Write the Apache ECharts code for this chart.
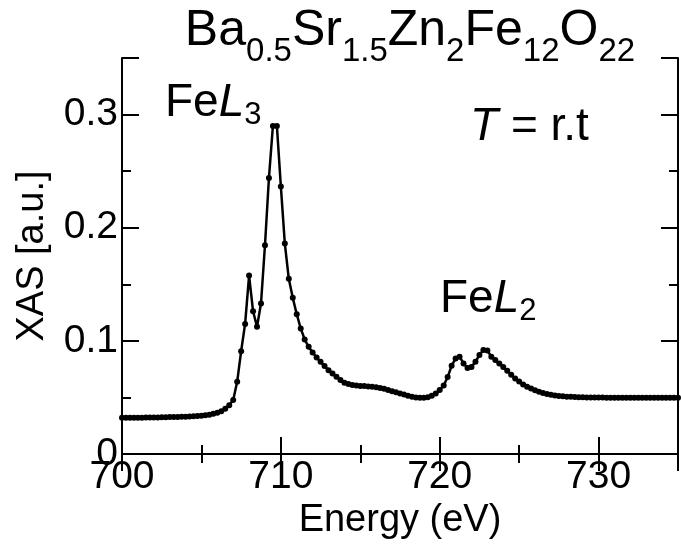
<!DOCTYPE html>
<html><head><meta charset="utf-8">
<script src="https://cdn.jsdelivr.net/npm/echarts@6/dist/echarts.min.js"></script>
<style>html,body{margin:0;padding:0;background:#fff}#c{width:681px;height:546px}</style>
</head><body><div id="c"></div>
<script>
// Energy grid (eV)
const energy = [
700.00,700.25,700.50,700.75,701.00,701.25,701.50,701.75,702.00,702.25,702.50,702.75,
703.00,703.25,703.50,703.75,704.00,704.25,704.50,704.75,705.00,705.25,705.50,705.75,
706.00,706.25,706.50,706.75,707.00,707.25,707.50,707.75,708.00,708.25,708.50,708.75,
709.00,709.25,709.50,709.75,710.00,710.25,710.50,710.75,711.00,711.25,711.50,711.75,
712.00,712.25,712.50,712.75,713.00,713.25,713.50,713.75,714.00,714.25,714.50,714.75,
715.00,715.25,715.50,715.75,716.00,716.25,716.50,716.75,717.00,717.25,717.50,717.75,
718.00,718.25,718.50,718.75,719.00,719.25,719.50,719.75,720.00,720.25,720.50,720.75,
721.00,721.25,721.50,721.75,722.00,722.25,722.50,722.75,723.00,723.25,723.50,723.75,
724.00,724.25,724.50,724.75,725.00,725.25,725.50,725.75,726.00,726.25,726.50,726.75,
727.00,727.25,727.50,727.75,728.00,728.25,728.50,728.75,729.00,729.25,729.50,729.75,
730.00,730.25,730.50,730.75,731.00,731.25,731.50,731.75,732.00,732.25,732.50,732.75,
733.00,733.25,733.50,733.75,734.00,734.25,734.50,734.75,735.00];
// XAS intensity (a.u.)
const xas = [
0.0320,0.0320,0.0320,0.0321,0.0321,0.0321,0.0322,0.0322,0.0323,0.0323,0.0324,0.0325,
0.0326,0.0327,0.0328,0.0329,0.0330,0.0332,0.0334,0.0336,0.0339,0.0343,0.0348,0.0355,
0.0365,0.0378,0.0400,0.0430,0.0477,0.0638,0.0909,0.1150,0.1577,0.1262,0.1124,0.1330,
0.1845,0.2440,0.2900,0.2900,0.2365,0.1860,0.1548,0.1380,0.1235,0.1110,0.1012,0.0947,
0.0897,0.0853,0.0815,0.0777,0.0741,0.0712,0.0683,0.0653,0.0630,0.0618,0.0610,0.0605,
0.0602,0.0600,0.0597,0.0594,0.0590,0.0584,0.0576,0.0566,0.0555,0.0545,0.0535,0.0525,
0.0515,0.0506,0.0500,0.0497,0.0497,0.0502,0.0515,0.0535,0.0565,0.0605,0.0680,0.0780,
0.0845,0.0860,0.0800,0.0760,0.0770,0.0815,0.0875,0.0920,0.0915,0.0860,0.0830,0.0800,
0.0768,0.0735,0.0700,0.0668,0.0640,0.0615,0.0595,0.0578,0.0563,0.0550,0.0540,0.0531,
0.0524,0.0518,0.0513,0.0510,0.0507,0.0505,0.0503,0.0502,0.0501,0.0500,0.0500,0.0499,
0.0499,0.0499,0.0498,0.0498,0.0498,0.0498,0.0497,0.0497,0.0497,0.0497,0.0497,0.0497,
0.0497,0.0497,0.0497,0.0497,0.0497,0.0497,0.0497,0.0497,0.0497];
const xTicks = [700, 710, 720, 730];
const yTicks = [0, 0.1, 0.2, 0.3];

const FONT = 'Liberation Sans';
const chart = echarts.init(document.getElementById('c'), null, {renderer: 'canvas'});
const axisBase = {
  axisLine: {show: true, lineStyle: {color: '#000', width: 2}},
  axisTick: {show: true, inside: true, length: 17, lineStyle: {color: '#000', width: 2}},
  minorTick: {show: true, splitNumber: 2, length: 9, lineStyle: {color: '#000', width: 2}},
  splitLine: {show: false},
  minorSplitLine: {show: false}
};
chart.setOption({
  animation: false,
  backgroundColor: '#fff',
  grid: {left: 122, right: -8, top: 58, bottom: 92, containLabel: false},
  xAxis: [
    Object.assign({}, axisBase, {
      type: 'value', position: 'bottom', min: 700, max: 735, interval: 10,
      axisLabel: {show: true, color: '#000', fontFamily: FONT, fontSize: 39, margin: 4,
        formatter: v => xTicks.includes(v) ? String(v) : ''},
      name: 'Energy (eV)', nameLocation: 'middle', nameGap: 44,
      nameTextStyle: {color: '#000', fontFamily: FONT, fontSize: 38, verticalAlign: 'top'}
    }),
    Object.assign({}, axisBase, {
      type: 'value', position: 'top', min: 700, max: 735, interval: 10,
      axisLabel: {show: false}
    })
  ],
  yAxis: [
    Object.assign({}, axisBase, {
      type: 'value', position: 'left', min: 0, max: 0.35, interval: 0.1,
      axisLabel: {show: true, color: '#000', fontFamily: FONT, fontSize: 39, margin: 4,
        formatter: v => { const t = yTicks.find(y => Math.abs(y - v) < 1e-9); return t === undefined ? '' : (t === 0 ? '0' : t.toFixed(1)); }},
      name: 'XAS [a.u.]', nameLocation: 'middle', nameGap: 70, nameRotate: 90,
      nameTextStyle: {color: '#000', fontFamily: FONT, fontSize: 38}
    }),
    Object.assign({}, axisBase, {
      type: 'value', position: 'right', min: 0, max: 0.35, interval: 0.1,
      axisLabel: {show: false}
    })
  ],
  series: [{
    type: 'line',
    data: energy.map((e, i) => [e, xas[i]]),
    xAxisIndex: 0, yAxisIndex: 0,
    showSymbol: true, showAllSymbol: true,
    symbol: 'circle', symbolSize: 6,
    itemStyle: {color: '#000'},
    lineStyle: {color: '#000', width: 2.5},
    emphasis: {disabled: true}
  }],
  graphic: [
    {type: 'text', x: 410, y: 4, z: 10,
      style: {text: '{m|Ba}{s|0.5}{m|Sr}{s|1.5}{m|Zn}{s|2}{m|Fe}{s|12}{m|O}{s|22}', align: 'center',
        rich: {m: {fontFamily: FONT, fontSize: 50, fill: '#000', verticalAlign: 'bottom', lineHeight: 52},
               s: {fontFamily: FONT, fontSize: 33, fill: '#000', padding: [0,0,-12,0], lineHeight: 52, verticalAlign: 'bottom'}}}},
    {type: 'text', x: 165, y: 80, z: 10,
      style: {text: '{m|Fe}{i|L}{s|3}',
        rich: {m: {fontFamily: FONT, fontSize: 46, fill: '#000'},
               i: {fontFamily: FONT, fontSize: 46, fontStyle: 'italic', fill: '#000'},
               s: {fontFamily: FONT, fontSize: 31, fill: '#000', padding: [0,0,-24,0]}}}},
    {type: 'text', x: 440, y: 276, z: 10,
      style: {text: '{m|Fe}{i|L}{s|2}',
        rich: {m: {fontFamily: FONT, fontSize: 46, fill: '#000'},
               i: {fontFamily: FONT, fontSize: 46, fontStyle: 'italic', fill: '#000'},
               s: {fontFamily: FONT, fontSize: 31, fill: '#000', padding: [0,0,-24,0]}}}},
    {type: 'text', x: 470, y: 104, z: 10,
      style: {text: '{i|T}{m| = r.t}',
        rich: {m: {fontFamily: FONT, fontSize: 46, fill: '#000'},
               i: {fontFamily: FONT, fontSize: 46, fontStyle: 'italic', fill: '#000'}}}}
  ]
});
</script></body></html>
